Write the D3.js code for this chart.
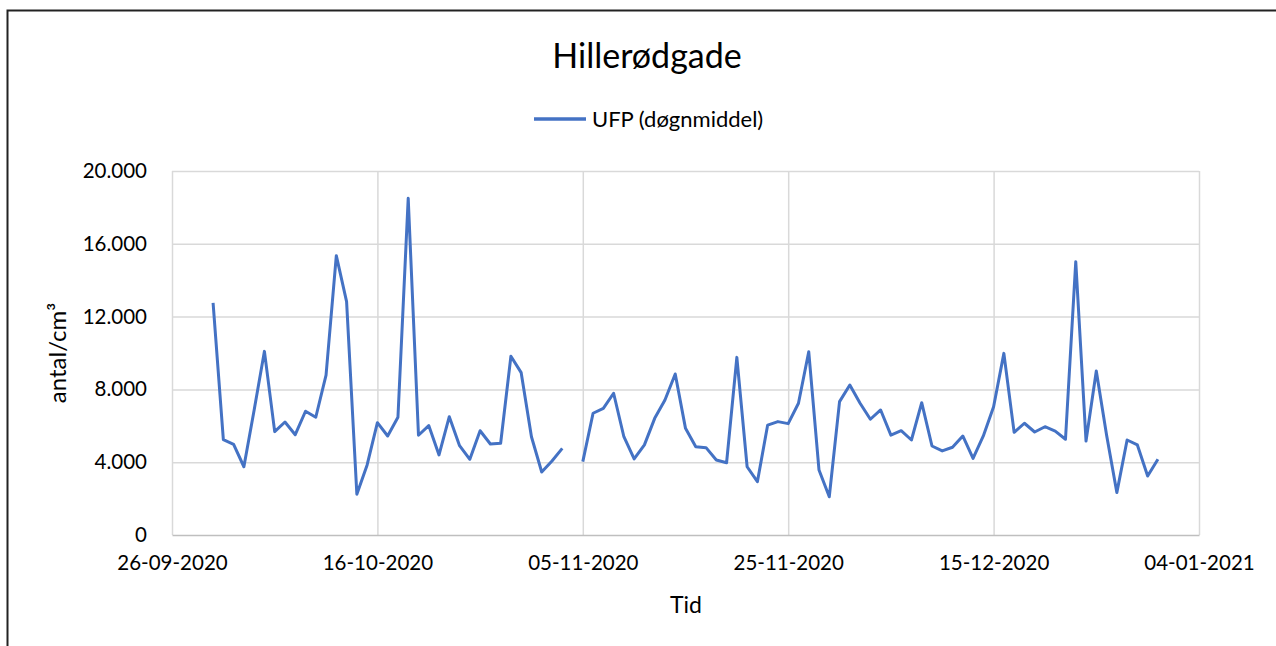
<!DOCTYPE html>
<html>
<head>
<meta charset="utf-8">
<script src="https://cdn.jsdelivr.net/npm/d3@7"></script>
<style>
  body { margin: 0; background: #fff; }
  text { font-family: Lato, "Liberation Sans", sans-serif; fill: #000; }
</style>
</head>
<body>
<script>
// daily means, first value is 30-09-2020, null = no data
var firstDay = "2020-09-30";
var ufp = [
  12760, 5240, 4980, 3750, 6870, 10090, 5680, 6210, 5510, 6800,
  6470, 8790, 15350, 12820, 2240, 3850, 6170, 5440, 6470, 18500,
  5480, 6010, 4400, 6500, 4910, 4160, 5730, 5000, 5040, 9820,
  8920, 5400, 3460, 4070, 4760, null, 4030, 6690, 6960, 7790,
  5400, 4180, 4950, 6410, 7420, 8850, 5860, 4850, 4800, 4120,
  3970, 9760, 3750, 2930, 6040, 6230, 6120, 7240, 10070, 3570,
  2100, 7330, 8240, 7240, 6360, 6870, 5490, 5730, 5220, 7270,
  4890, 4620, 4820, 5440, 4210, 5440, 7050, 9980, 5640, 6140,
  5660, 5950, 5710, 5260, 15020, 5160, 9010, 5490, 2330, 5220,
  4950, 3240, 4160
];
var xTicks = ["2020-09-26", "2020-10-16", "2020-11-05", "2020-11-25", "2020-12-15", "2021-01-04"];
var yTicks = [0, 4000, 8000, 12000, 16000, 20000];

function drawChart() {
  var width = 1276, height = 646;
  var parse = d3.utcParse("%Y-%m-%d");
  var fmt = d3.utcFormat("%d-%m-%Y");
  var start = parse(firstDay);
  var data = ufp.map(function(v, i) {
    return { date: d3.utcDay.offset(start, i), value: v };
  });

  var svg = d3.select("body").append("svg")
    .attr("width", width)
    .attr("height", height);

  // outer chart border (runs off the right and bottom edges)
  svg.append("rect")
    .attr("x", 7.5).attr("y", 10.5)
    .attr("width", 1300).attr("height", 700)
    .attr("fill", "none")
    .attr("stroke", "#222")
    .attr("stroke-width", 2);

  var pLeft = 172, pRight = 1199, pTop = 171, pBottom = 535;

  var x = d3.scaleUtc()
    .domain([parse(xTicks[0]), parse(xTicks[xTicks.length - 1])])
    .range([pLeft, pRight]);
  var y = d3.scaleLinear()
    .domain([0, 20000])
    .range([pBottom, pTop]);

  var tickDates = xTicks.map(parse);
  var numFmt = function(d) { return d3.format(",")(d).replace(/,/g, "."); };

  // horizontal gridlines
  svg.append("g")
    .attr("transform", "translate(" + pLeft + ",0)")
    .call(d3.axisLeft(y).tickValues(yTicks.slice(1)).tickSize(-(pRight - pLeft)).tickFormat(""))
    .call(function(g) {
      g.select(".domain").remove();
      g.selectAll("line").attr("stroke", "#d9d9d9").attr("stroke-width", 1.5);
    });

  // vertical gridlines
  svg.append("g")
    .attr("transform", "translate(0," + pBottom + ")")
    .call(d3.axisBottom(x).tickValues(tickDates).tickSize(-(pBottom - pTop)).tickFormat(""))
    .call(function(g) {
      g.select(".domain").remove();
      g.selectAll("line").attr("stroke", "#d9d9d9").attr("stroke-width", 1.5);
    });

  // x axis line + labels
  svg.append("g")
    .attr("transform", "translate(0," + pBottom + ")")
    .call(d3.axisBottom(x).tickValues(tickDates).tickSize(0).tickPadding(20).tickFormat(fmt))
    .call(function(g) {
      g.select(".domain").attr("stroke", "#bfbfbf").attr("stroke-width", 1.5);
      g.selectAll("text").attr("font-size", "20.5px").attr("fill", "#000")
        .style("font-family", "Lato, sans-serif");
    });

  // y axis labels
  svg.append("g")
    .attr("transform", "translate(" + pLeft + ",0)")
    .call(d3.axisLeft(y).tickValues(yTicks).tickSize(0).tickPadding(25).tickFormat(numFmt))
    .call(function(g) {
      g.select(".domain").remove();
      g.selectAll("text").attr("font-size", "20.5px").attr("fill", "#000")
        .style("font-family", "Lato, sans-serif");
    });

  // the series
  var line = d3.line()
    .defined(function(d) { return d.value !== null; })
    .x(function(d) { return x(d.date); })
    .y(function(d) { return y(d.value); });

  svg.append("path")
    .datum(data)
    .attr("d", line)
    .attr("fill", "none")
    .attr("stroke", "#4472c4")
    .attr("stroke-width", 3)
    .attr("stroke-linejoin", "round");

  // title
  svg.append("text")
    .attr("x", 647).attr("y", 68)
    .attr("text-anchor", "middle")
    .attr("font-size", "34px")
    .text("Hillerødgade");

  // legend
  svg.append("line")
    .attr("x1", 534).attr("x2", 586)
    .attr("y1", 119).attr("y2", 119)
    .attr("stroke", "#4472c4")
    .attr("stroke-width", 3.5);
  svg.append("text")
    .attr("x", 592).attr("y", 127)
    .attr("font-size", "22px")
    .text("UFP (døgnmiddel)");

  // axis titles
  svg.append("text")
    .attr("x", 686).attr("y", 613)
    .attr("text-anchor", "middle")
    .attr("font-size", "23px")
    .text("Tid");

  svg.append("text")
    .attr("transform", "translate(66,353) rotate(-90)")
    .attr("text-anchor", "middle")
    .attr("font-size", "24px")
    .text("antal/cm³");
}

drawChart();
</script>
</body>
</html>
